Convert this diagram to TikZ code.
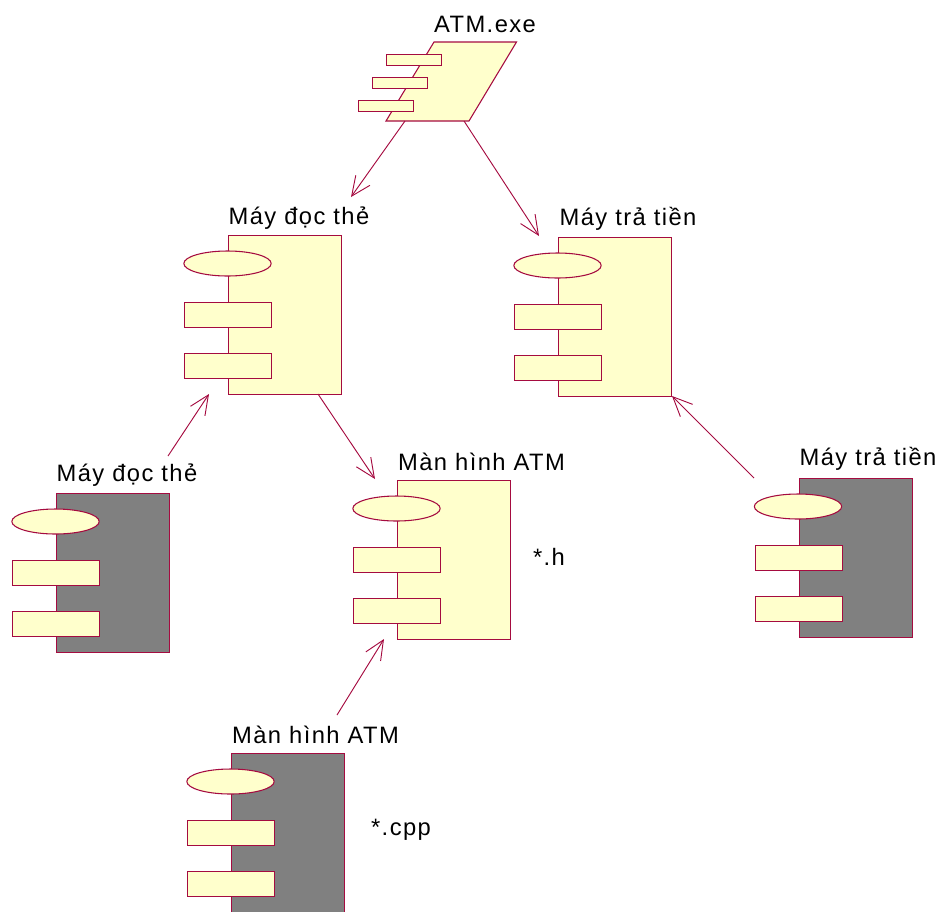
\documentclass[tikz,border=0pt]{standalone}
\usepackage{fontspec}
\setmainfont[LetterSpace=6]{Liberation Sans}
\usetikzlibrary{arrows.meta,shapes.geometric}
\definecolor{umlline}{HTML}{A50B40}
\definecolor{umlfill}{HTML}{FFFFCC}
\definecolor{umlgray}{HTML}{808080}
\tikzset{
  x=0.75pt,y=-0.75pt,
  part/.style={draw=umlline,line width=0.8pt,fill=umlfill},
  bodybox/.style={part,rectangle,inner sep=0pt,minimum width=85pt,minimum height=119.5pt,anchor=north west},
  graybody/.style={bodybox,fill=umlgray},
  tab/.style={part,rectangle,inner sep=0pt,minimum width=65.5pt,minimum height=18.75pt,anchor=north west},
  oval/.style={part,ellipse,inner sep=0pt,minimum width=65.5pt,minimum height=18.75pt},
  smalltab/.style={part,rectangle,inner sep=0pt,minimum width=41.5pt,minimum height=8.25pt,anchor=north west},
  lab/.style={inner sep=0pt,font=\fontsize{17.8}{20}\selectfont,text=black},
  dep/.style={draw=umlline,line width=0.7pt,-{Straight Barb[length=14.5pt,width=13pt,line width=0.7pt]}},
}
\newcommand{\umlcomp}[7]{% name, x, y, style, label, label x, label y
  \node[#4] (#1) at (#2,#3) {};
  \node[oval] (#1o) at (#2-0.5,#3+28.5) {};
  \node[tab] (#1a) at (#2-44,#3+67) {};
  \node[tab] (#1b) at (#2-44,#3+118) {};
  \node[lab] (#1l) at (#6,#7) {#5};
}
\begin{document}
\begin{tikzpicture}
\useasboundingbox (0,0) rectangle (938,911);
\clip (0,0) rectangle (938,911);
% executable
\draw[part] (434,42) -- (516.5,42) -- (469,121) -- (386,121) -- cycle;
\coordinate (exeL) at (405,121);
\coordinate (exeR) at (464,121);
\node[smalltab] (s1) at (386,54) {};
\node[smalltab] (s2) at (372,77) {};
\node[smalltab] (s3) at (358,100) {};
\node[lab] (exe) at (485,24.5) {ATM.exe};
% components
\umlcomp{A}{228}{235}{bodybox}{Máy đọc thẻ}{299}{218}
\umlcomp{B}{558}{237}{bodybox}{Máy trả tiền}{628}{219}
\umlcomp{C}{56}{493}{graybody}{Máy đọc thẻ}{127}{475}
\umlcomp{D}{397}{480}{bodybox}{Màn hình ATM}{481.5}{462}
\umlcomp{E}{798.5}{478}{graybody}{Máy trả tiền}{868}{459}
\umlcomp{F}{231}{753}{graybody}{Màn hình ATM}{315.5}{735}
\node[lab] (h) at (549,557) {*.h};
\node[lab] (cpp) at (401,830) {*.cpp};
% connector ends
\coordinate (t1) at (351,197);
\coordinate (t2) at (539,236);
\coordinate (t3) at (375,479);
\coordinate (t4) at (209,394);
\coordinate (t5) at (672,396);
\coordinate (t6) at (384,639);
\coordinate (f3) at (318,394);
\coordinate (f4) at (168,456);
\coordinate (f5) at (754,478);
\coordinate (f6) at (337,715);
\draw[dep] (exeL) -- (t1);
\draw[dep] (exeR) -- (t2);
\draw[dep] (f3) -- (t3);
\draw[dep] (f4) -- (t4);
\draw[dep] (f5) -- (t5);
\draw[dep] (f6) -- (t6);
\end{tikzpicture}
\end{document}
